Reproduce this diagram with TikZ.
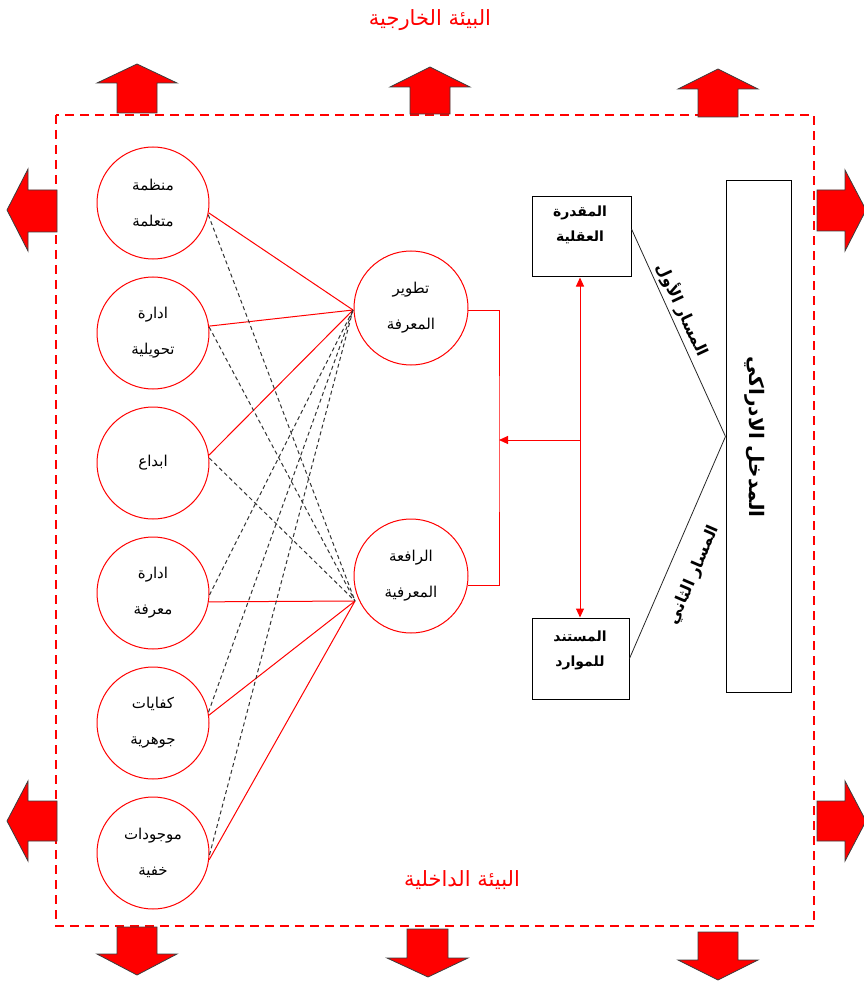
\documentclass[tikz,border=0pt]{standalone}
\usepackage{fontspec}
\newfontfamily\arabicfont[Script=Arabic]{DejaVu Sans}
\TeXXeTstate=1
\usetikzlibrary{arrows.meta}
\newcommand{\ar}[1]{{\arabicfont\beginR #1\endR}}
\definecolor{rd}{RGB}{255,0,0}
\definecolor{edgegray}{RGB}{60,60,60}
\tikzset{
  bigarrow/.style={fill=rd, draw=edgegray, line width=0.8pt, line join=miter},
  frame/.style={draw=rd, line width=2pt, dash pattern=on 9pt off 6pt},
  factor/.style={circle, draw=rd, line width=1pt, fill=white, minimum size=112pt, inner sep=0pt,
    align=center, font=\arabicfont\fontsize{15}{36}\selectfont},
  pivot/.style={circle, draw=rd, line width=1pt, fill=white, minimum size=114pt, inner sep=0pt,
    align=center, font=\arabicfont\fontsize{15}{36}\selectfont},
  redline/.style={draw=rd, line width=1pt},
  dashline/.style={draw=black!80, line width=1pt, dash pattern=on 4pt off 3pt},
  blackline/.style={draw=black!85, line width=0.8pt},
  plainbox/.style={draw=black, line width=1pt, fill=white, inner sep=0pt},
  boxtext/.style={align=center, font=\arabicfont\bfseries\fontsize{14}{25}\selectfont},
  pathlabel/.style={font=\arabicfont\bfseries\fontsize{16}{18}\selectfont, inner sep=0pt},
  envtext/.style={text=rd, font=\arabicfont\fontsize{21}{24}\selectfont},
}
\begin{document}
\begin{tikzpicture}[x=1pt,y=-1pt]
\useasboundingbox (0,0) rectangle (863,981);

% environment titles
\node[envtext] (outer) at (430,20) {\ar{البيئة الخارجية}};
\node[envtext] (inner) at (462,880) {\ar{البيئة الداخلية}};

% dashed boundary of the internal environment
\draw[frame] (56,115) rectangle (814,926);

% outward arrows: top
\filldraw[bigarrow] (137,64) -- (177,83) -- (157,83) -- (157,113) -- (117,113) -- (117,83) -- (97,83) -- cycle;
\filldraw[bigarrow] (430,67) -- (470,87) -- (450,87) -- (450,114) -- (410,114) -- (410,87) -- (390,87) -- cycle;
\filldraw[bigarrow] (718,69) -- (758,89) -- (738,89) -- (738,117) -- (698,117) -- (698,89) -- (678,89) -- cycle;
% bottom
\filldraw[bigarrow] (137,975) -- (177,954) -- (157,954) -- (157,927) -- (117,927) -- (117,954) -- (97,954) -- cycle;
\filldraw[bigarrow] (428,977) -- (468,958) -- (448,958) -- (448,929) -- (407,929) -- (407,958) -- (387,958) -- cycle;
\filldraw[bigarrow] (718,980) -- (758,960) -- (738,960) -- (738,932) -- (698,932) -- (698,960) -- (678,960) -- cycle;
% left
\filldraw[bigarrow] (7,210) -- (28,169) -- (28,190) -- (57,190) -- (57,232) -- (28,232) -- (28,251) -- cycle;
\filldraw[bigarrow] (7,821) -- (28,781) -- (28,801) -- (57,801) -- (57,841) -- (28,841) -- (28,861) -- cycle;
% right
\filldraw[bigarrow] (866,210) -- (845,170) -- (845,190) -- (817,190) -- (817,231) -- (845,231) -- (845,251) -- cycle;
\filldraw[bigarrow] (866,821) -- (845,781) -- (845,801) -- (817,801) -- (817,841) -- (845,841) -- (845,861) -- cycle;

% left column of factors
\node[factor] (c1) at (153,203) {\ar{منظمة}\\\ar{متعلمة}};
\node[factor] (c2) at (153,333) {\ar{ادارة}\\\ar{تحويلية}};
\node[factor] (c3) at (153,463) {\ar{ابداع}};
\node[factor] (c4) at (153,593) {\ar{ادارة}\\\ar{معرفة}};
\node[factor] (c5) at (153,723) {\ar{كفايات}\\\ar{جوهرية}};
\node[factor] (c6) at (153,853) {\ar{موجودات}\\\ar{خفية}};

% middle pivots
\node[pivot] (m1) at (411,308) {\ar{تطوير}\\\ar{المعرفة}};
\node[pivot] (m2) at (411,576) {\ar{الرافعة}\\\ar{المعرفية}};
\coordinate (j1) at (353,310);
\coordinate (j2) at (355,601);

% solid links
\draw[redline] (c1.-10) -- (j1);
\draw[redline] (c2.7) -- (j1);
\draw[redline] (c3.8) -- (j1);
\draw[redline] (c4.-9) -- (j2);
\draw[redline] (c5.8) -- (j2);
\draw[redline] (c6.-7) -- (j2);
% dashed links
\draw[dashline] (c1.-12) -- (j2);
\draw[dashline] (c2.6) -- (j2);
\draw[dashline] (c3.5) -- (j2);
\draw[dashline] (c4.-2) -- (j1);
\draw[dashline] (c5.11) -- (j1);
\draw[dashline] (c6.-2) -- (j1);

% bracket joining the two pivots
\coordinate (bk) at (499,440);
\draw[redline] (m1.-2) -| (bk) |- (m2.-10);

% right side boxes
\node[plainbox, minimum width=99pt, minimum height=80pt] (b1) at (581.5,237) {};
\node[plainbox, minimum width=97pt, minimum height=81pt] (b2) at (580.5,658.5) {};
\node[boxtext] (b1t) at (580,225) {\ar{المقدرة}\\\ar{العقلية}};
\node[boxtext] (b2t) at (580,650) {\ar{المستند}\\\ar{للموارد}};
\node[plainbox, minimum width=65pt, minimum height=511pt] (big) at (758.5,436.5) {};
\node[font=\arabicfont\bfseries\fontsize{20}{24}\selectfont, rotate=-90] (bigt) at (755,437) {\ar{المدخل الادراكي}};

% red arrows between boxes and bracket
\coordinate (vmid) at (580,440);
\draw[redline, {Triangle[length=9pt,width=8pt]}-{Triangle[length=9pt,width=8pt]}] (b1.south -| vmid) -- (b2.north -| vmid);
\draw[redline, -{Triangle[length=9pt,width=8pt]}] (vmid) -- (bk);

% the two paths
\draw[blackline] ([yshift=8pt]b1.east) -- (big.west);
\draw[blackline] (b2.east) -- (big.west);
\node[pathlabel, rotate=-65] (p1) at (683,310) {\ar{المسار الأول}};
\node[pathlabel, rotate=66.6] (p2) at (694,575) {\ar{المسار الثاني}};
\end{tikzpicture}
\end{document}
